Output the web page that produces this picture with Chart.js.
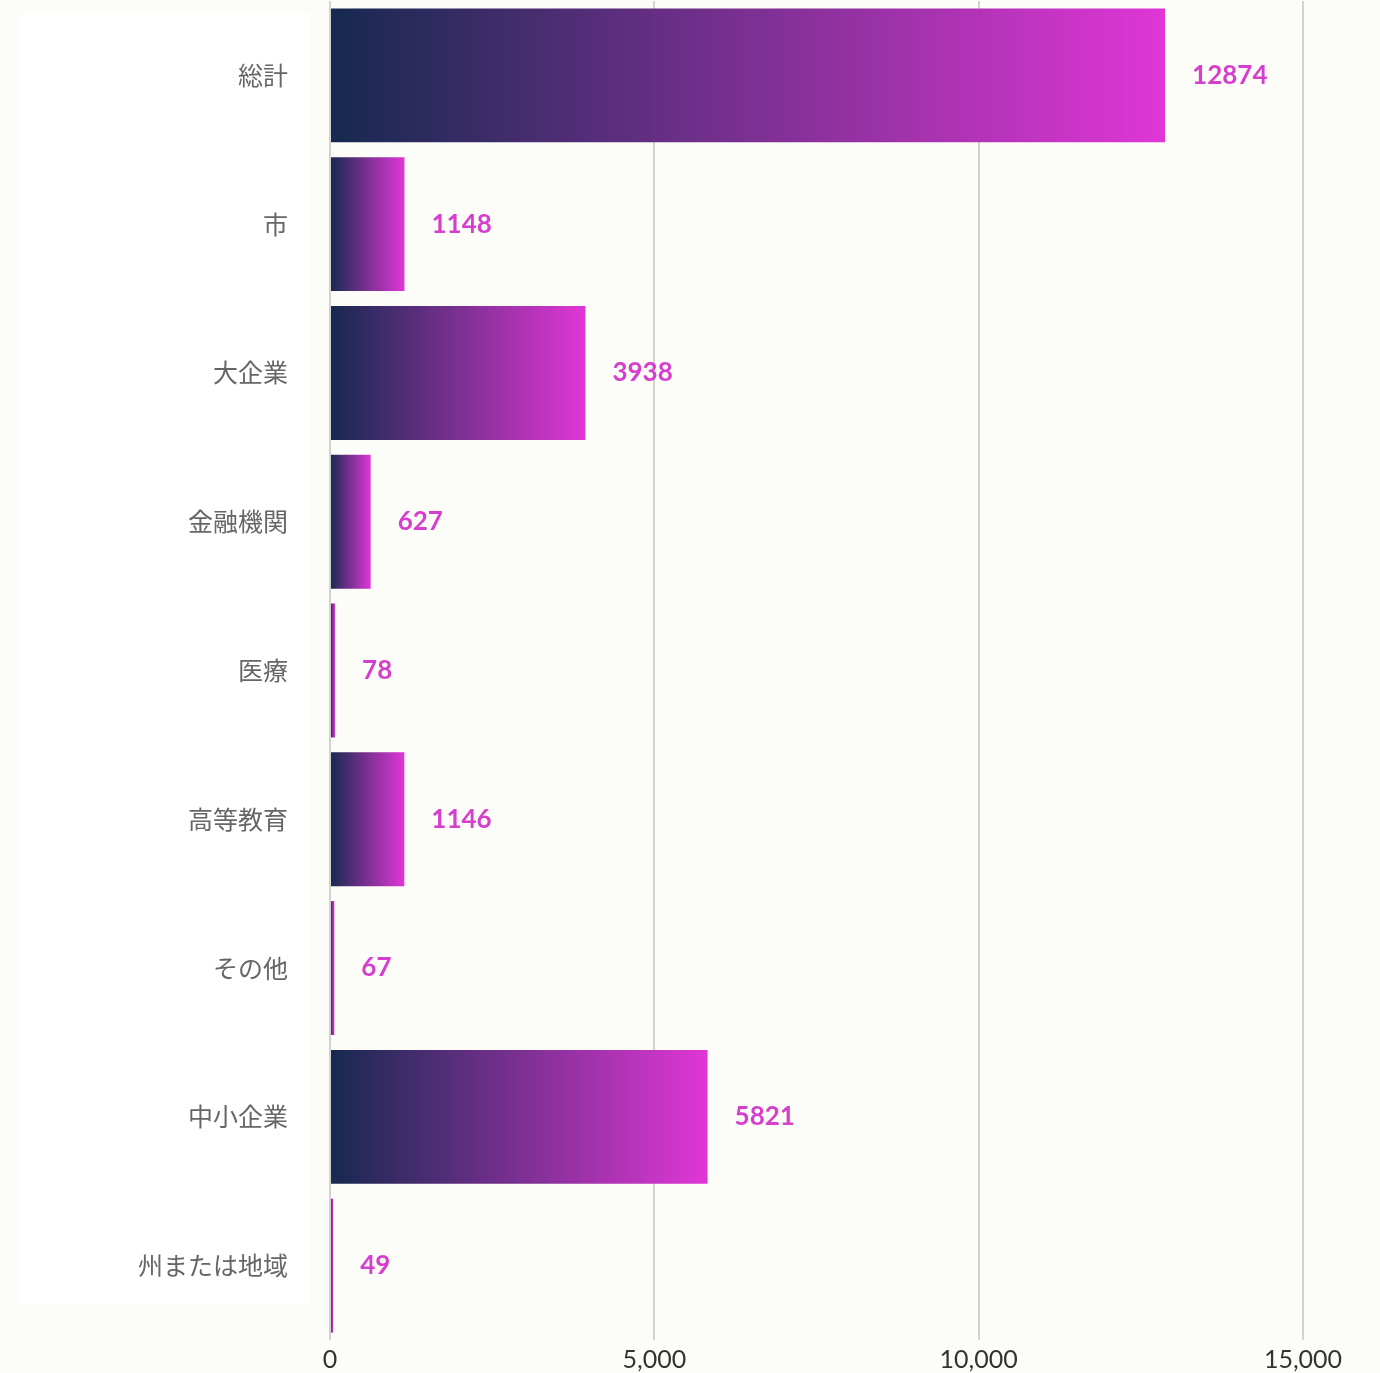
<!DOCTYPE html>
<html>
<head>
<meta charset="utf-8">
<script src="https://cdn.jsdelivr.net/npm/chart.js@4/dist/chart.umd.min.js"></script>
<style>
  html, body { margin: 0; padding: 0; background: #fcfcf8; }
  #wrap { width: 1380px; height: 1373px; position: relative; }
</style>
</head>
<body>
<div id="wrap"><canvas id="c" width="1380" height="1373"></canvas></div>
<script>
const categories = ['総計', '市', '大企業', '金融機関', '医療', '高等教育', 'その他', '中小企業', '州または地域'];
const values = [12874, 1148, 3938, 627, 78, 1146, 67, 5821, 49];
const xTicks = [0, 5000, 10000, 15000];

const navy = '#16294f';
const purple = '#7b3092';
const magenta = '#e036d6';

const panelPlugin = {
  id: 'panel',
  beforeDraw(chart) {
    const { ctx, chartArea } = chart;
    ctx.save();
    ctx.fillStyle = '#fcfcf8';
    ctx.fillRect(0, 0, chart.width, chart.height);
    ctx.fillStyle = '#ffffff';
    ctx.fillRect(20, chartArea.top + 12, chartArea.left - 40, chartArea.bottom - chartArea.top - 47);
    ctx.restore();
  }
};

const valueLabels = {
  id: 'valueLabels',
  afterDatasetsDraw(chart) {
    const { ctx } = chart;
    const meta = chart.getDatasetMeta(0);
    ctx.save();
    ctx.font = 'bold 26px Lato, sans-serif';
    ctx.fillStyle = '#d63fcd';
    ctx.textAlign = 'left';
    ctx.textBaseline = 'middle';
    meta.data.forEach((bar, i) => {
      ctx.fillText(String(values[i]), bar.x + 27, bar.y);
    });
    ctx.restore();
  }
};

new Chart(document.getElementById('c'), {
  type: 'bar',
  data: {
    labels: categories,
    datasets: [{
      data: values,
      barPercentage: 0.9,
      categoryPercentage: 1.0,
      borderWidth: 0,
      backgroundColor: (ctx) => {
        const chart = ctx.chart;
        const xs = chart.scales.x;
        if (!xs || !chart.chartArea) return magenta;
        const v = values[ctx.dataIndex];
        const x0 = xs.getPixelForValue(0);
        const x1 = xs.getPixelForValue(v);
        if (!isFinite(x0) || !isFinite(x1) || x1 - x0 < 1) return purple;
        const g = chart.ctx.createLinearGradient(x0, 0, x1, 0);
        g.addColorStop(0, navy);
        g.addColorStop(0.5, purple);
        g.addColorStop(1, magenta);
        return g;
      }
    }]
  },
  options: {
    indexAxis: 'y',
    responsive: false,
    animation: false,
    layout: { padding: { top: 1, right: 77, bottom: 0, left: 0 } },
    plugins: { legend: { display: false }, tooltip: { enabled: false } },
    scales: {
      x: {
        min: 0, max: 15000,
        afterBuildTicks(scale) { scale.ticks = xTicks.map(v => ({ value: v })); },
        afterFit(scale) { scale.height = 33; },
        grid: { color: '#d2d2ce', lineWidth: 2, drawTicks: false },
        border: { display: false },
        ticks: {
          padding: 5,
          color: '#333333',
          font: { family: 'Lato, sans-serif', size: 25 },
          callback: (v) => Number(v).toLocaleString('en-US')
        }
      },
      y: {
        afterFit(scale) { scale.width = 330; scale.paddingTop = 0; scale.paddingBottom = 0; },
        grid: { display: false, drawTicks: false },
        border: { display: false },
        ticks: {
          padding: 42,
          color: '#666666',
          font: { family: '"Noto Sans CJK JP", sans-serif', size: 25 }
        }
      }
    }
  },
  plugins: [panelPlugin, valueLabels]
});
</script>
</body>
</html>
